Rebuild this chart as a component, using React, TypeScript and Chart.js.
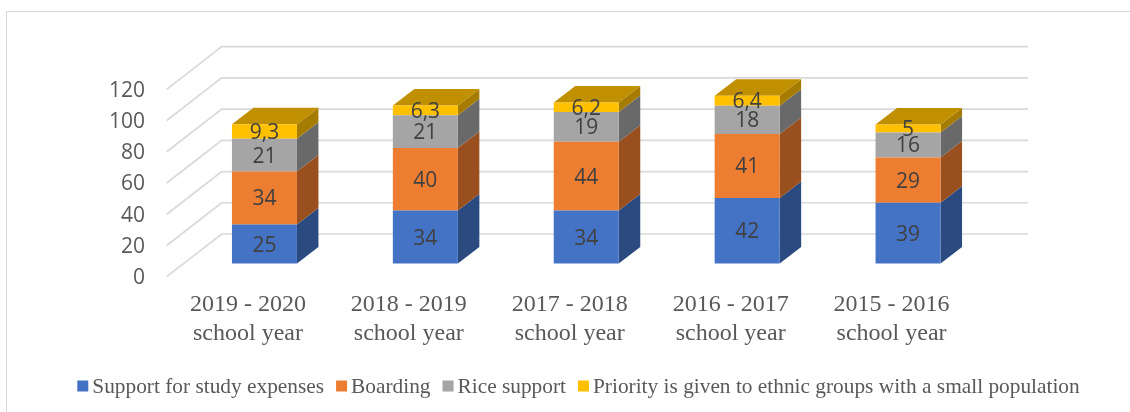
import React, { useEffect, useRef } from "react";
import { Chart, registerables } from "chart.js";

Chart.register(...registerables);

const categories = [
  ["2019 - 2020", "school year"],
  ["2018 - 2019", "school year"],
  ["2017 - 2018", "school year"],
  ["2016 - 2017", "school year"],
  ["2015 - 2016", "school year"],
];
const studyExpenses = [25, 34, 34, 42, 39];
const boarding = [34, 40, 44, 41, 29];
const riceSupport = [21, 21, 19, 18, 16];
const ethnicPriority = [9.3, 6.3, 6.2, 6.4, 5];

const seriesNames = [
  "Support for study expenses",
  "Boarding",
  "Rice support",
  "Priority is given to ethnic groups with a small population",
];
const frontColors = ["#4472C4", "#ED7D31", "#A5A5A5", "#FFC000"];
const sideColors = ["#2A4A80", "#9A4F1E", "#696969", "#A67C00"];
const capColor = "#C09000";

const SERIF = '"Liberation Serif", serif';
const SANS = '"Open Sans", sans-serif';

// Depth of the floor (front edge to back wall) and of each column.
const FLOOR_DX = 55;
const FLOOR_DY = 42.7;
const BAR_DX = 21.5;
const BAR_DY = 16.5;

const polygon = (ctx: CanvasRenderingContext2D, pts: number[][], fill: string) => {
  ctx.beginPath();
  pts.forEach(([x, y], i) => (i ? ctx.lineTo(x, y) : ctx.moveTo(x, y)));
  ctx.closePath();
  ctx.fillStyle = fill;
  ctx.fill();
};

// Floor diagonals, back-wall lines and the side and top faces of the columns.
const depthPlugin = {
  id: "depth",
  beforeDatasetsDraw(chart: any) {
    const { ctx, chartArea, scales } = chart;
    const startX = chartArea.left - 17.3;
    const endX = chartArea.right + 39.5;
    ctx.save();
    ctx.strokeStyle = "#D9D9D9";
    ctx.lineWidth = 1.7;
    scales.y.ticks.forEach((_: any, i: number) => {
      const py = scales.y.getPixelForTick(i);
      ctx.beginPath();
      ctx.moveTo(startX, py);
      ctx.lineTo(startX + FLOOR_DX, py - FLOOR_DY);
      ctx.lineTo(endX, py - FLOOR_DY);
      ctx.stroke();
    });
    const last = chart.data.datasets.length - 1;
    chart.data.datasets.forEach((_: any, d: number) => {
      chart.getDatasetMeta(d).data.forEach((el: any) => {
        const right = el.x + el.width / 2;
        const left = el.x - el.width / 2;
        polygon(
          ctx,
          [
            [right, el.base],
            [right + BAR_DX, el.base - BAR_DY],
            [right + BAR_DX, el.y - BAR_DY],
            [right, el.y],
          ],
          sideColors[d]
        );
        if (d === last) {
          polygon(
            ctx,
            [
              [left, el.y],
              [left + BAR_DX, el.y - BAR_DY],
              [right + BAR_DX, el.y - BAR_DY],
              [right, el.y],
            ],
            capColor
          );
        }
      });
    });
    ctx.restore();
  },
  afterDatasetsDraw(chart: any) {
    const { ctx } = chart;
    ctx.save();
    ctx.font = `21px ${SANS}`;
    ctx.fillStyle = "#404040";
    ctx.textAlign = "center";
    ctx.textBaseline = "middle";
    chart.data.datasets.forEach((ds: any, d: number) => {
      chart.getDatasetMeta(d).data.forEach((el: any, i: number) => {
        const label = String(ds.data[i]).replace(".", ",");
        ctx.fillText(label, el.x, (el.y + el.base) / 2 + 1.5);
      });
    });
    ctx.restore();
  },
};

// Single legend row with tight marker-to-text spacing.
const legendRowPlugin = {
  id: "legendRow",
  afterDraw(chart: any) {
    const { ctx } = chart;
    const box = 11;
    const textGap = 4;
    const itemGap = 12;
    ctx.save();
    ctx.font = `21.35px ${SERIF}`;
    ctx.textBaseline = "middle";
    const items = chart.data.datasets.map((ds: any) => ds.label as string);
    const total = items.reduce(
      (sum: number, t: string) => sum + box + textGap + ctx.measureText(t).width,
      itemGap * (items.length - 1)
    );
    let x = 578.5 - total / 2;
    const y = 386;
    items.forEach((t: string, d: number) => {
      ctx.fillStyle = frontColors[d];
      ctx.fillRect(x, y - box / 2, box, box);
      x += box + textGap;
      ctx.fillStyle = "#595959";
      ctx.fillText(t, x, y + 1);
      x += ctx.measureText(t).width + itemGap;
    });
    ctx.restore();
  },
};

export default function App() {
  const ref = useRef<HTMLCanvasElement>(null);

  useEffect(() => {
    const chart = new Chart(ref.current as HTMLCanvasElement, {
      type: "bar",
      data: {
        labels: categories as any,
        datasets: [studyExpenses, boarding, riceSupport, ethnicPriority].map((data, i) => ({
          label: seriesNames[i],
          data,
          backgroundColor: frontColors[i],
          borderWidth: 0,
          yAxisID: "columns",
          categoryPercentage: 1,
          barPercentage: 0.404,
        })),
      },
      options: {
        animation: false,
        responsive: false,
        layout: { padding: { top: 89.3, right: 141.5, left: 0, bottom: 0 } },
        plugins: { legend: { display: false }, tooltip: { enabled: false } },
        scales: {
          x: {
            stacked: true,
            grid: { display: false },
            border: { display: false },
            afterFit: (s: any) => {
              s.height = 135.3;
            },
            ticks: {
              color: "#595959",
              font: { family: SERIF, size: 24, lineHeight: 1.21 },
              padding: 5,
              labelOffset: -16.5,
              maxRotation: 0,
              autoSkip: false,
            },
          },
          y: {
            min: 0,
            max: 120,
            position: "left",
            grid: { display: false },
            border: { display: false },
            afterFit: (s: any) => {
              s.width = 184;
            },
            ticks: {
              stepSize: 20,
              color: "#595959",
              font: { family: SANS, size: 21 },
              padding: 31,
              labelOffset: 1.5,
            },
          },
          // Columns stand on a plane part-way into the floor, so their zero
          // sits above the zero of the front axis.
          columns: {
            display: false,
            stacked: true,
            min: -8.4,
            max: 111.6,
          },
        },
      } as any,
      plugins: [depthPlugin, legendRowPlugin],
    });
    return () => chart.destroy();
  }, []);

  return (
    <div style={{ position: "absolute", left: 0, top: 0, width: 1130, height: 412, background: "#fff" }}>
      <div
        style={{
          position: "absolute",
          left: 6,
          top: 11,
          right: 0,
          bottom: 0,
          borderLeft: "1.5px solid #D9D9D9",
          borderTop: "1.5px solid #D9D9D9",
        }}
      />
      <canvas ref={ref} width={1130} height={412} style={{ position: "absolute", left: 0, top: 0 }} />
    </div>
  );
}
